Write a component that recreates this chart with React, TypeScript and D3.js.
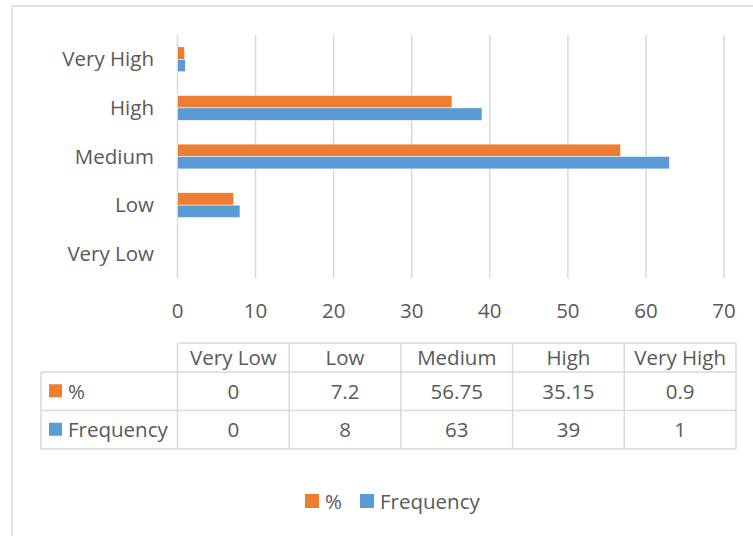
import React from "react";
import * as d3 from "d3";

const categories = ["Very Low", "Low", "Medium", "High", "Very High"];
const seriesNames = ["%", "Frequency"];
const percentValues = [0, 7.2, 56.75, 35.15, 0.9];
const frequencyValues = [0, 8, 63, 39, 1];
const percentLabels = ["0", "7.2", "56.75", "35.15", "0.9"];
const frequencyLabels = ["0", "8", "63", "39", "1"];
const xTicks = [0, 10, 20, 30, 40, 50, 60, 70];

const COLORS: Record<string, string> = { "%": "#ED7D31", Frequency: "#5B9BD5" };
const FONT = "'Open Sans', Calibri, sans-serif";
const TEXT = "#595959";
const GRID = "#D9D9D9";

const W = 753;
const H = 536;

export default function App() {
  const x = d3.scaleLinear().domain([0, 70]).range([177.5, 724]);
  // Very High at the top, Very Low at the bottom
  const y = d3
    .scaleBand<string>()
    .domain([...categories].reverse())
    .range([35, 278]);
  const barH = 12.4;
  const inner = d3
    .scaleBand<string>()
    .domain(seriesNames)
    .range([0, barH * 2]);

  const seriesValues: Record<string, number[]> = {
    "%": percentValues,
    Frequency: frequencyValues,
  };
  const seriesLabels: Record<string, string[]> = {
    "%": percentLabels,
    Frequency: frequencyLabels,
  };

  // data table geometry
  const colScale = d3
    .scaleBand<string>()
    .domain(categories)
    .range([177.5, 736]);
  const tableLeft = 41;
  const rowTops = [343, 372, 410.5, 449];
  const fs = 20.5;

  return (
    <svg
      width={W}
      height={H}
      style={{ position: "absolute", left: 0, top: 0, background: "#fff" }}
      fontFamily={FONT}
    >
      <rect x={0} y={0} width={W} height={H} fill="#fff" />
      {/* chart border */}
      <rect x={12} y={6} width={W + 20} height={H + 20} fill="none" stroke={GRID} strokeWidth={1.5} />

      {/* vertical gridlines */}
      {xTicks.map((t) => (
        <line key={"g" + t} x1={x(t)} x2={x(t)} y1={35} y2={278} stroke={GRID} strokeWidth={1.5} />
      ))}

      {/* bars */}
      {categories.map((c, i) =>
        seriesNames.map((s) => {
          const v = seriesValues[s][i];
          const top = (y(c) as number) + y.bandwidth() / 2 - barH + (inner(s) as number);
          return v > 0 ? (
            <rect
              key={c + s}
              x={x(0)}
              y={top}
              width={x(v) - x(0)}
              height={inner.bandwidth()}
              fill={COLORS[s]}
              stroke="#fff"
              strokeWidth={0.5}
            />
          ) : null;
        })
      )}

      {/* category labels */}
      {categories.map((c) => (
        <text
          key={"c" + c}
          x={154}
          y={(y(c) as number) + y.bandwidth() / 2 - 1}
          textAnchor="end"
          dominantBaseline="central"
          fontSize={fs}
          fill={TEXT}
        >
          {c}
        </text>
      ))}

      {/* x tick labels */}
      {xTicks.map((t) => (
        <text
          key={"t" + t}
          x={x(t)}
          y={309.5}
          textAnchor="middle"
          dominantBaseline="central"
          fontSize={fs}
          fill={TEXT}
        >
          {t}
        </text>
      ))}

      {/* data table */}
      <g stroke={GRID} strokeWidth={1.5} fill="none">
        <line x1={177.5} x2={736} y1={rowTops[0]} y2={rowTops[0]} />
        {rowTops.slice(1).map((r) => (
          <line key={"r" + r} x1={tableLeft} x2={736} y1={r} y2={r} />
        ))}
        <line x1={tableLeft} x2={tableLeft} y1={rowTops[1]} y2={rowTops[3]} />
        {categories.map((c) => (
          <line
            key={"v" + c}
            x1={colScale(c) as number}
            x2={colScale(c) as number}
            y1={rowTops[0]}
            y2={rowTops[3]}
          />
        ))}
        <line x1={736} x2={736} y1={rowTops[0]} y2={rowTops[3]} />
      </g>
      {categories.map((c) => (
        <text
          key={"h" + c}
          x={(colScale(c) as number) + colScale.bandwidth() / 2}
          y={(rowTops[0] + rowTops[1]) / 2 - 0.5}
          textAnchor="middle"
          dominantBaseline="central"
          fontSize={fs}
          fill={TEXT}
        >
          {c}
        </text>
      ))}
      {seriesNames.map((s, ri) => {
        const cy = (rowTops[ri + 1] + rowTops[ri + 2]) / 2 - 0.5;
        return (
          <g key={"row" + s}>
            <rect x={49} y={cy - 6.5} width={13} height={13} fill={COLORS[s]} />
            <text x={68} y={cy} dominantBaseline="central" fontSize={fs} fill={TEXT}>
              {s}
            </text>
            {categories.map((c, i) => (
              <text
                key={s + c}
                x={(colScale(c) as number) + colScale.bandwidth() / 2}
                y={cy}
                textAnchor="middle"
                dominantBaseline="central"
                fontSize={fs}
                fill={TEXT}
              >
                {seriesLabels[s][i]}
              </text>
            ))}
          </g>
        );
      })}

      {/* legend */}
      <rect x={305} y={494} width={14} height={14} fill={COLORS["%"]} />
      <text x={325} y={500.5} dominantBaseline="central" fontSize={fs} fill={TEXT}>
        %
      </text>
      <rect x={360} y={494} width={14} height={14} fill={COLORS["Frequency"]} />
      <text x={380} y={500.5} dominantBaseline="central" fontSize={fs} fill={TEXT}>
        Frequency
      </text>
    </svg>
  );
}
